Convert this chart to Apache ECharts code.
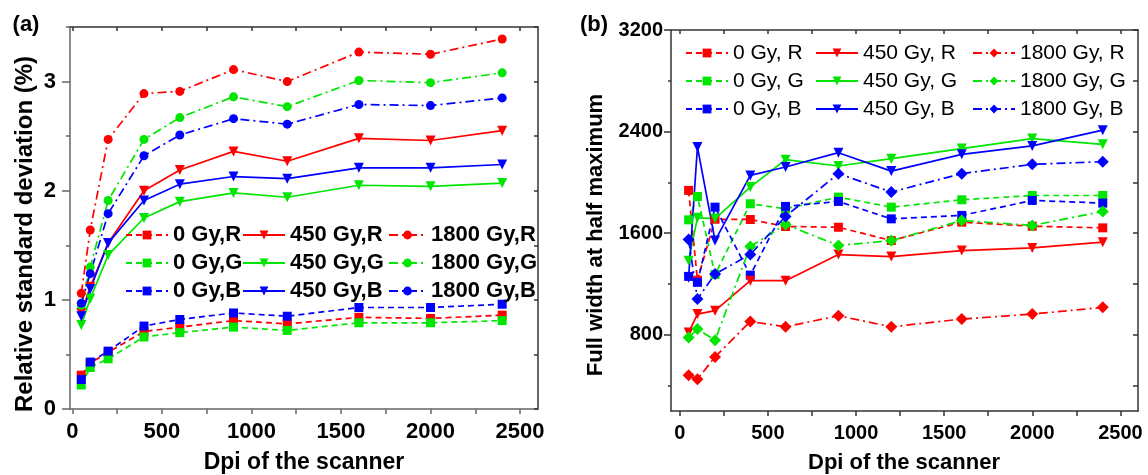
<!DOCTYPE html>
<html><head><meta charset="utf-8">
<script src="https://cdn.jsdelivr.net/npm/echarts@6/dist/echarts.min.js"></script>
<style>html,body{margin:0;padding:0;background:#fff}#c{width:1148px;height:475px}</style>
</head><body><div id="c"></div>
<script>
// ---- data ----
const dpi = [50, 100, 200, 400, 600, 900, 1200, 1600, 2000, 2400];
// panel (a): relative standard deviation (%)
const a_0R    = [0.31, 0.42, 0.52, 0.71, 0.75, 0.81, 0.78, 0.84, 0.83, 0.86];
const a_0G    = [0.22, 0.38, 0.46, 0.66, 0.70, 0.75, 0.72, 0.79, 0.79, 0.81];
const a_0B    = [0.27, 0.43, 0.53, 0.76, 0.82, 0.88, 0.85, 0.93, 0.93, 0.96];
const a_450R  = [0.88, 1.12, 1.52, 2.00, 2.19, 2.36, 2.27, 2.48, 2.46, 2.55];
const a_450G  = [0.77, 1.01, 1.41, 1.75, 1.90, 1.98, 1.94, 2.05, 2.04, 2.07];
const a_450B  = [0.85, 1.10, 1.52, 1.91, 2.06, 2.13, 2.11, 2.21, 2.21, 2.24];
const a_1800R = [1.06, 1.64, 2.47, 2.89, 2.91, 3.11, 3.00, 3.27, 3.25, 3.39];
const a_1800G = [0.95, 1.30, 1.91, 2.47, 2.67, 2.86, 2.77, 3.01, 2.99, 3.08];
const a_1800B = [0.97, 1.24, 1.79, 2.32, 2.51, 2.66, 2.61, 2.79, 2.78, 2.85];
// panel (b): full width at half maximum
const b_0R    = [1937, 1230, 1710, 1708, 1653, 1647, 1542, 1687, 1655, 1642];
const b_0G    = [1705, 1889, 1275, 1832, 1792, 1884, 1805, 1863, 1897, 1897];
const b_0B    = [1260, 1213, 1805, 1270, 1811, 1850, 1713, 1740, 1858, 1837];
const b_450R  = [818, 963, 990, 1226, 1226, 1432, 1416, 1463, 1484, 1529];
const b_450G  = [1384, 1721, 1715, 1963, 2179, 2129, 2187, 2266, 2345, 2300];
const b_450B  = [1250, 2279, 1542, 2055, 2121, 2234, 2089, 2221, 2287, 2411];
const b_1800R = [482, 450, 626, 905, 863, 950, 863, 924, 963, 1016];
const b_1800G = [779, 845, 758, 1495, 1668, 1503, 1542, 1700, 1661, 1771];
const b_1800B = [1550, 1082, 1279, 1432, 1732, 2069, 1924, 2069, 2142, 2163];
// tick values
const xTicks = [0, 250, 500, 750, 1000, 1250, 1500, 1750, 2000, 2250, 2500];
const xLabels = [0, 500, 1000, 1500, 2000, 2500];
const aYLabels = [0, 1, 2, 3];
const aYMinor = [0.5, 1.5, 2.5, 3.5];
const bYLabels = [800, 1600, 2400, 3200];
const bYMinor = [400, 1200, 2000, 2800];

// ---- styling ----
const RED = '#ff0000', GREEN = '#00e600', BLUE = '#0000ff';
const FONT = '"Liberation Sans", Arial, sans-serif';
const DASH = [6, 4], DASHDOT = [9, 4, 2, 4];
const plain = v => String(v);

function pts(vals) { return dpi.map((d, i) => [d, vals[i]]); }
function ser(name, vals, color, kind, sym, xi, yi) {
  let size = 9;
  if (sym === 'triangle') size = 10;
  if (sym === 'diamond') size = 12;
  return {
    name: name, type: 'line', xAxisIndex: xi, yAxisIndex: yi, data: pts(vals),
    symbol: sym, symbolSize: size, symbolRotate: sym === 'triangle' ? 180 : 0,
    lineStyle: { color: color, width: 1.7, type: kind === 'dash' ? DASH : (kind === 'dashdot' ? DASHDOT : 'solid') },
    itemStyle: { color: color }, emphasis: { disabled: true }, animation: false
  };
}
function xAx(grid, pos, min, color, inside, labels, fs, margin) {
  return {
    type: 'value', gridIndex: grid, position: pos, min: min, max: 2600,
    axisLine: { show: true, onZero: false, lineStyle: { color: color, width: 1.5 } },
    axisTick: { show: true, inside: inside, length: inside ? 4 : 5, customValues: xTicks, lineStyle: { color: color, width: 1.5 } },
    axisLabel: labels ? { show: true, customValues: xLabels, formatter: plain, fontFamily: FONT, fontSize: fs, fontWeight: 'bold', color: '#000', margin: margin } : { show: false },
    splitLine: { show: false }
  };
}
function yAx(grid, pos, min, max, color, ticks, len, inside, labels, showLine, margin, fs) {
  return {
    type: 'value', gridIndex: grid, position: pos, min: min, max: max,
    axisLine: { show: showLine, onZero: false, lineStyle: { color: color, width: 1.5 } },
    axisTick: { show: true, inside: inside, length: len, customValues: ticks, lineStyle: { color: color, width: 1.5 } },
    axisLabel: labels ? { show: true, customValues: labels, formatter: plain, fontFamily: FONT, fontSize: fs, fontWeight: 'bold', color: '#000', margin: margin } : { show: false },
    splitLine: { show: false }
  };
}
function legend(names, left, top, bold, iw) {
  return {
    orient: 'vertical', left: left, top: top, data: names, padding: 0,
    itemWidth: iw, itemHeight: 11, itemGap: 6, selectedMode: false,
    textStyle: { fontFamily: FONT, fontSize: bold ? 22 : 21, fontWeight: bold ? 'bold' : 'normal', color: '#000', lineHeight: 22 }
  };
}
function txt(text, x, y, size, rot) {
  return { type: 'text', x: x, y: y, rotation: rot || 0, silent: true,
    style: { text: text, font: 'bold ' + size + 'px ' + FONT, fill: '#000', align: 'center', verticalAlign: 'middle', textAlign: 'center', textVerticalAlign: 'middle' } };
}

const option = {
  animation: false,
  backgroundColor: '#fff',
  grid: [
    { left: 70, top: 27, width: 468, height: 382 },
    { left: 671, top: 30, width: 467, height: 381 }
  ],
  xAxis: [
    xAx(0, 'bottom', -13, '#666', false, true, 22, 12),
    xAx(0, 'top', -13, '#333', true, false),
    xAx(1, 'bottom', -50, '#333', false, true, 20, 12),
    xAx(1, 'top', -50, '#333', true, false)
  ],
  yAxis: [
    yAx(0, 'left', 0, 3.5, '#666', aYLabels, 8, false, aYLabels, true, 14, 22),
    yAx(0, 'left', 0, 3.5, '#666', aYMinor, 4, false, null, false),
    yAx(0, 'right', 0, 3.5, '#333', aYLabels.concat(aYMinor), 4, true, null, true),
    yAx(1, 'left', 200, 3200, '#333', bYLabels, 7, false, bYLabels, true, 8, 20),
    yAx(1, 'left', 200, 3200, '#333', bYMinor, 3, false, null, false),
    yAx(1, 'right', 200, 3200, '#333', bYLabels.concat(bYMinor), 5, true, null, true)
  ],
  legend: [
    legend(['0 Gy,R', '0 Gy,G', '0 Gy,B'], 125, 224, true, 42),
    legend(['450 Gy,R', '450 Gy,G', '450 Gy,B'], 242, 224, true, 42),
    legend(['1800 Gy,R', '1800 Gy,G', '1800 Gy,B'], 388, 224, true, 37),
    legend(['0 Gy, R', '0 Gy, G', '0 Gy, B'], 685, 42, false, 42),
    legend(['450 Gy, R', '450 Gy, G', '450 Gy, B'], 815, 42, false, 42),
    legend(['1800 Gy, R', '1800 Gy, G', '1800 Gy, B'], 972, 42, false, 42)
  ],
  graphic: [
    txt('(a)', 26, 25, 22),
    txt('(b)', 594, 25, 22),
    txt('Relative standard deviation (%)', 25, 234, 24, Math.PI / 2),
    txt('Full width at half maximum', 596, 235, 22, Math.PI / 2),
    txt('Dpi of the scanner', 304, 463, 23),
    txt('Dpi of the scanner', 904, 463, 22)
  ],
  series: [
    ser('0 Gy,R', a_0R, RED, 'dash', 'rect', 0, 0),
    ser('0 Gy,G', a_0G, GREEN, 'dash', 'rect', 0, 0),
    ser('0 Gy,B', a_0B, BLUE, 'dash', 'rect', 0, 0),
    ser('450 Gy,R', a_450R, RED, 'solid', 'triangle', 0, 0),
    ser('450 Gy,G', a_450G, GREEN, 'solid', 'triangle', 0, 0),
    ser('450 Gy,B', a_450B, BLUE, 'solid', 'triangle', 0, 0),
    ser('1800 Gy,R', a_1800R, RED, 'dashdot', 'circle', 0, 0),
    ser('1800 Gy,G', a_1800G, GREEN, 'dashdot', 'circle', 0, 0),
    ser('1800 Gy,B', a_1800B, BLUE, 'dashdot', 'circle', 0, 0),
    ser('0 Gy, R', b_0R, RED, 'dash', 'rect', 2, 3),
    ser('0 Gy, G', b_0G, GREEN, 'dash', 'rect', 2, 3),
    ser('0 Gy, B', b_0B, BLUE, 'dash', 'rect', 2, 3),
    ser('450 Gy, R', b_450R, RED, 'solid', 'triangle', 2, 3),
    ser('450 Gy, G', b_450G, GREEN, 'solid', 'triangle', 2, 3),
    ser('450 Gy, B', b_450B, BLUE, 'solid', 'triangle', 2, 3),
    ser('1800 Gy, R', b_1800R, RED, 'dashdot', 'diamond', 2, 3),
    ser('1800 Gy, G', b_1800G, GREEN, 'dashdot', 'diamond', 2, 3),
    ser('1800 Gy, B', b_1800B, BLUE, 'dashdot', 'diamond', 2, 3)
  ]
};
const chart = echarts.init(document.getElementById('c'), null, { renderer: 'canvas' });
chart.setOption(option);
</script>
</body></html>
